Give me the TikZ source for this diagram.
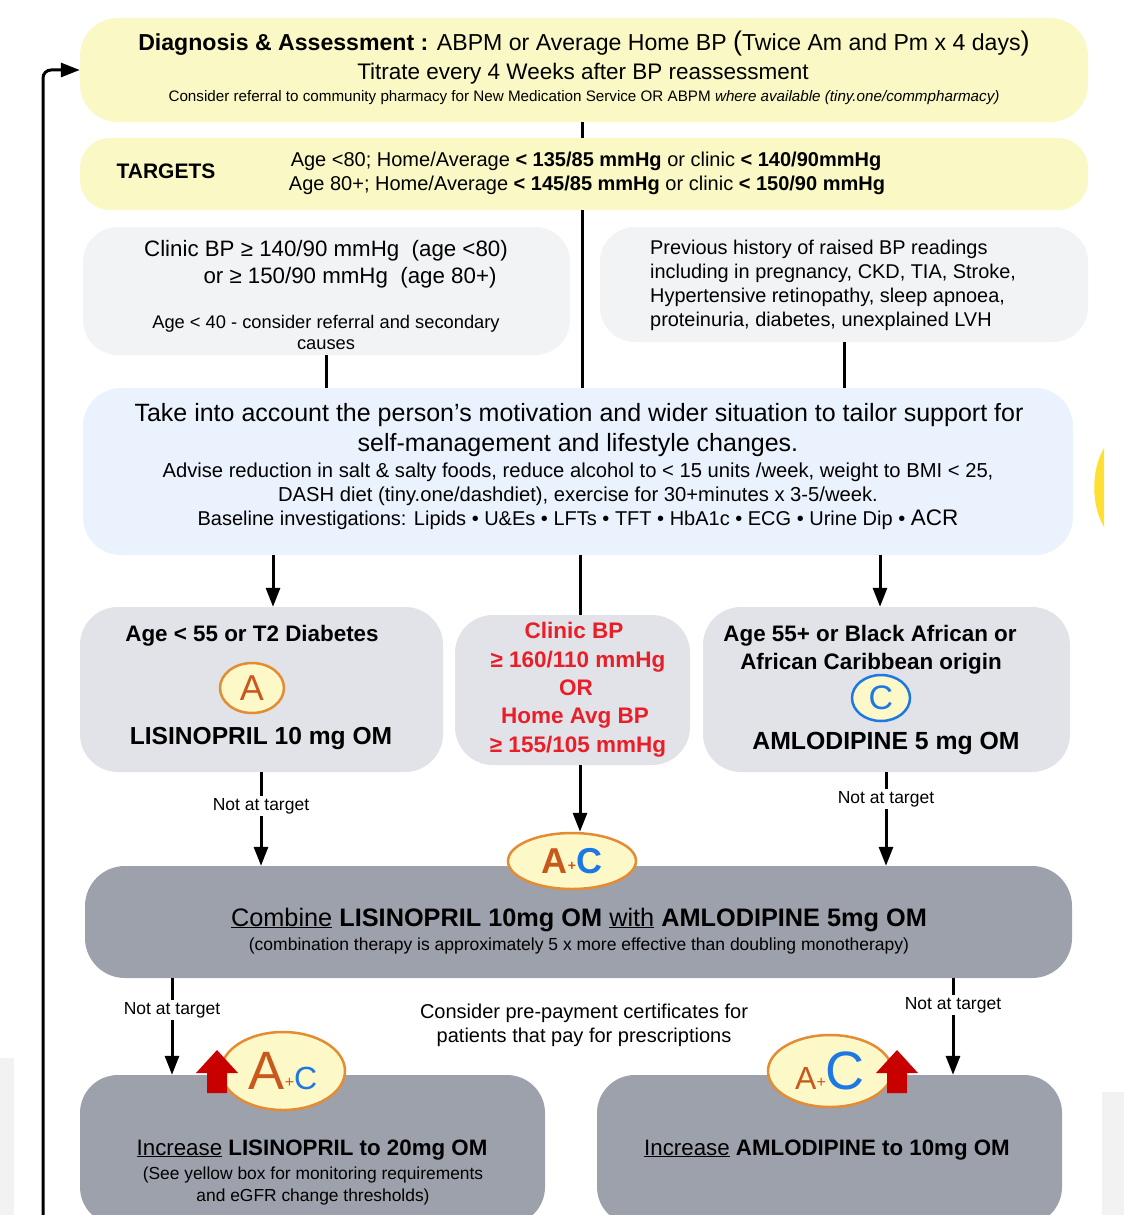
\documentclass[tikz,border=0pt]{standalone}
\usepackage{fontspec}
\setmainfont{Liberation Sans}
\usetikzlibrary{shapes.geometric,arrows.meta,calc}

\definecolor{yelBox}{RGB}{250,248,196}
\definecolor{paleGrey}{RGB}{242,243,245}
\definecolor{paleBlue}{RGB}{234,243,253}
\definecolor{midGrey}{RGB}{225,227,232}
\definecolor{darkGrey}{RGB}{156,161,171}
\definecolor{orLetter}{RGB}{200,88,28}
\definecolor{orRing}{RGB}{228,140,52}
\definecolor{blueC}{RGB}{28,120,226}
\definecolor{redTxt}{RGB}{232,30,40}
\definecolor{redArrow}{RGB}{200,0,0}
\definecolor{badgeFill}{RGB}{253,248,200}
\definecolor{sliver}{RGB}{255,224,50}

\newcommand\fsz[1]{\fontsize{#1}{#1}\selectfont}

\tikzset{
  panel/.style={rectangle, inner sep=0pt, draw=none},
  conn/.style={line width=3pt, draw=black},
  arr/.style={conn, -{Triangle[length=19pt,width=14pt]}},
  txt/.style={inner sep=0pt, anchor=base},
  txtl/.style={inner sep=0pt, anchor=base west},
  nat/.style={inner sep=2pt, fill=white, font=\fsz{17.5}},
  badge/.style={ellipse, inner sep=0pt, fill=badgeFill, draw=orRing, line width=2.5pt},
}

\begin{document}
\begin{tikzpicture}[x=1pt,y=-1pt]
\clip (0,0) rectangle (1124,1215);
\fill[white] (0,0) rectangle (1124,1215);

% faint strips at the lower edges
\fill[black!5] (0,1058) rectangle (14,1215);
\fill[black!5] (1102,1092) rectangle (1124,1215);
% yellow sliver at the right edge
\fill[sliver] (1104,448) .. controls (1091,470) and (1091,505) .. (1104,527) -- cycle;

% column positions for the connectors
\coordinate (cM) at (582,0);
\coordinate (cL) at (326,0);
\coordinate (cR) at (844,0);
\coordinate (aL) at (273,0);
\coordinate (aM) at (580,0);
\coordinate (aR) at (880,0);
\coordinate (nL) at (261,0);
\coordinate (nR) at (886,0);
\coordinate (bL) at (172,0);
\coordinate (bR) at (953,0);

% ---------- boxes ----------
\node[panel, fill=yelBox, rounded corners=38pt, minimum width=1008, minimum height=104] (diag) at (584,70) {};
\node[panel, fill=yelBox, rounded corners=30pt, minimum width=1008, minimum height=72] (targets) at (584,174) {};
\node[panel, fill=paleGrey, rounded corners=35pt, minimum width=487, minimum height=128] (clin) at (326.5,291) {};
\node[panel, fill=paleGrey, rounded corners=35pt, minimum width=488, minimum height=115] (hist) at (844,284.5) {};
\node[panel, fill=paleBlue, rounded corners=38pt, minimum width=990, minimum height=167] (adv) at (578,471.5) {};
\node[panel, fill=midGrey, rounded corners=38pt, minimum width=363, minimum height=165] (boxA) at (261.5,689.5) {};
\node[panel, fill=midGrey, rounded corners=38pt, minimum width=235, minimum height=150] (boxR) at (572.5,690) {};
\node[panel, fill=midGrey, rounded corners=38pt, minimum width=367, minimum height=165] (boxC) at (886.5,689.5) {};
\node[panel, fill=darkGrey, rounded corners=40pt, minimum width=987, minimum height=112] (comb) at (578.5,922) {};
\node[panel, fill=darkGrey, rounded corners=38pt, minimum width=465, minimum height=150] (incL) at (312.5,1150) {};
\node[panel, fill=darkGrey, rounded corners=38pt, minimum width=465, minimum height=150] (incR) at (829.5,1150) {};

% ---------- texts ----------
\node[txt, font=\fsz{23.1}] (d1) at (584,51) {\textbf{Diagnosis \& Assessment :} ABPM or Average Home BP {\fsz{27}(}Twice Am and Pm x 4 days{\fsz{27})}};
\node[txt, font=\fsz{22.5}] (d2) at (583,80) {Titrate every 4 Weeks after BP reassessment};
\node[txt, font=\fsz{15.2}] (d3) at (584,101) {Consider referral to community pharmacy for New Medication Service OR ABPM \textit{where available (tiny.one/commpharmacy)}};

\node[txt, font=\fsz{21}\bfseries] (tg0) at (166,178) {TARGETS};
\node[txt, font=\fsz{20}] (tg1) at (586,166) {Age <80; Home/Average \textbf{< 135/85 mmHg} or clinic \textbf{< 140/90mmHg}};
\node[txt, font=\fsz{20}] (tg2) at (587,190) {Age 80+; Home/Average \textbf{< 145/85 mmHg} or clinic \textbf{< 150/90 mmHg}};

\node[txt, font=\fsz{22.3}] (cl1) at (326,256) {Clinic BP ≥ 140/90 mmHg\ \ (age <80)};
\node[txt, font=\fsz{22.3}] (cl2) at (350,283) {or ≥ 150/90 mmHg\ \ (age 80+)};
\node[txt, font=\fsz{18.3}] (cl3) at (326,328) {Age < 40 - consider referral and secondary};
\node[txt, font=\fsz{18.3}] (cl4) at (326,349) {causes};

\node[txtl, font=\fsz{19.9}] (h1) at (650,254) {Previous history of raised BP readings};
\node[txtl, font=\fsz{19.9}] (h2) at (650,278) {including in pregnancy, CKD, TIA, Stroke,};
\node[txtl, font=\fsz{19.9}] (h3) at (650,302) {Hypertensive retinopathy, sleep apnoea,};
\node[txtl, font=\fsz{19.9}] (h4) at (650,326) {proteinuria, diabetes, unexplained LVH};

\node[txt, font=\fsz{25}] (a1) at (579,421) {Take into account the person’s motivation and wider situation to tailor support for};
\node[txt, font=\fsz{25}] (a2) at (578,451) {self-management and lifestyle changes.};
\node[txt, font=\fsz{20.2}] (a3) at (578,477) {Advise reduction in salt \& salty foods, reduce alcohol to < 15 units /week, weight to BMI < 25,};
\node[txt, font=\fsz{20.2}] (a4) at (578,501) {DASH diet (tiny.one/dashdiet), exercise for 30+minutes x 3-5/week.};
\node[txt, font=\fsz{20}] (a5) at (578,525) {Baseline investigations: Lipids • U\&Es • LFTs • TFT • HbA1c • ECG • Urine Dip • {\fsz{22.5}ACR}};

\node[txt, font=\fsz{22.4}\bfseries] (pa1) at (252,641) {Age < 55 or T2 Diabetes};
\node[txt, font=\fsz{24.6}\bfseries] (pa2) at (261,744) {LISINOPRIL 10 mg OM};

\node[txt, font=\fsz{22.5}\bfseries, text=redTxt] (r1) at (574,638) {Clinic BP};
\node[txt, font=\fsz{22.5}\bfseries, text=redTxt] (r2) at (578,667) {≥ 160/110 mmHg};
\node[txt, font=\fsz{22.5}\bfseries, text=redTxt] (r3) at (576,695) {OR};
\node[txt, font=\fsz{22.5}\bfseries, text=redTxt] (r4) at (575,723) {Home Avg BP};
\node[txt, font=\fsz{22.5}\bfseries, text=redTxt] (r5) at (578,752) {≥ 155/105 mmHg};

\node[txt, font=\fsz{22.4}\bfseries] (pc1) at (870,641) {Age 55+ or Black African or};
\node[txt, font=\fsz{22.4}\bfseries] (pc2) at (871,669) {African Caribbean origin};
\node[txt, font=\fsz{24.8}\bfseries] (pc3) at (886,749) {AMLODIPINE 5 mg OM};

\node[txt, font=\fsz{25.3}] (cb1) at (579,926) {\underline{Combine} \textbf{LISINOPRIL 10mg OM} \underline{with} \textbf{AMLODIPINE 5mg OM}};
\node[txt, font=\fsz{17.5}] (cb2) at (579,950) {(combination therapy is approximately 5 x more effective than doubling monotherapy)};

\node[txt, font=\fsz{20}] (pp1) at (584,1018) {Consider pre-payment certificates for};
\node[txt, font=\fsz{20}] (pp2) at (584,1042) {patients that pay for prescriptions};

\node[txt, font=\fsz{22.3}] (il1) at (312,1155) {\underline{Increase} \textbf{LISINOPRIL to 20mg OM}};
\node[txt, font=\fsz{17.4}] (il2) at (313,1179) {(See yellow box for monitoring requirements};
\node[txt, font=\fsz{17.4}] (il3) at (313,1201) {and eGFR change thresholds)};
\node[txt, font=\fsz{22.3}] (ir1) at (827,1155) {\underline{Increase} \textbf{AMLODIPINE to 10mg OM}};

% ---------- "Not at target" labels ----------
\node[nat] (natA) at (261,806) {Not at target};
\node[nat] (natC) at (886,799) {Not at target};
\node[nat] (natL) at (172,1010) {Not at target};
\node[nat] (natR) at (953,1005) {Not at target};

% ---------- connectors ----------
\draw[conn] (diag.south -| cM) -- (targets.north -| cM);
\draw[conn] (targets.south -| cM) -- (adv.north -| cM);
\draw[conn] (clin.south -| cL) -- (adv.north -| cL);
\draw[conn] (hist.south -| cR) -- (adv.north -| cR);
\draw[arr] (adv.south -| aL) -- (boxA.north -| aL);
\draw[conn] (adv.south -| aM) -- (boxR.north -| aM);
\draw[arr] (adv.south -| aR) -- (boxC.north -| aR);
\draw[conn] (boxA.south -| nL) -- (natA.north);
\draw[arr] (natA.south) -- (comb.north -| nL);
\draw[conn] (boxC.south -| nR) -- (natC.north);
\draw[arr] (natC.south) -- (comb.north -| nR);
\draw[conn] (comb.south -| bL) -- (natL.north);
\draw[arr] (natL.south) -- (incL.north -| bL);
\draw[conn] (comb.south -| bR) -- (natR.north);
\draw[arr] (natR.south) -- (incR.north -| bR);

% return path back to the top box
\coordinate (fbStart) at (43,1215);
\draw[arr, rounded corners=8pt] (fbStart) |- (diag.west);

% ---------- drug badges ----------
\node[badge, minimum width=64, minimum height=50] (circA) at (252,688) {\fsz{36}\color{orLetter}A};
\node[badge, draw=blueC, minimum width=58, minimum height=46] (circC) at (881,698) {\fsz{34}\color{blueC}C};

\node[badge, minimum width=128, minimum height=56] (acTop) at (572,861)
  {\bfseries\color{orLetter}\fsz{36}A\raisebox{3pt}{\fsz{14}+}\color{blueC}C};
\draw[arr] (boxR.south -| aM) -- (acTop.north -| aM);

% dose-increase badges with their red arrows
\node[badge, minimum width=124, minimum height=78] (acL) at (283,1071)
  {\color{orLetter}\fsz{54}A\raisebox{2pt}{\fsz{16}+}\color{blueC}\fsz{32}C};
\fill[redArrow] (217,1050) -- (238,1073) -- (227,1073) -- (227,1093) -- (207,1093) -- (207,1073) -- (196,1073) -- cycle;
\node[badge, minimum width=124, minimum height=72] (acR) at (830,1071)
  {\color{orLetter}\fsz{32}A\raisebox{2pt}{\fsz{16}+}\color{blueC}\fsz{54}C};
\fill[redArrow] (897,1050) -- (918,1073) -- (907,1073) -- (907,1093) -- (887,1093) -- (887,1073) -- (876,1073) -- cycle;

\end{tikzpicture}
\end{document}
